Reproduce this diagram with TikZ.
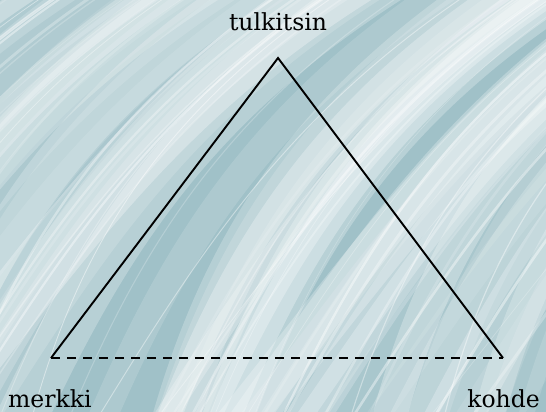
\documentclass[tikz,border=0pt]{standalone}
\usepackage{fontspec}
\setmainfont{DejaVu Serif}
\definecolor{bgbase}{RGB}{160,193,200}
\tikzset{
  lbl/.style={font=\fontsize{23.5}{26}\selectfont, text=black, inner sep=0pt},
  side/.style={draw=black, line width=1.9pt},
  base/.style={draw=black, line width=1.9pt, dash pattern=on 9pt off 7pt},
  strand/.style={draw=white, line cap=round}
}
\begin{document}
\begin{tikzpicture}[x=1pt,y=-1pt]
\useasboundingbox (0,0) rectangle (546,412);
\begin{scope}
\clip (0,0) rectangle (546,412);
\fill[bgbase] (0,0) rectangle (546,412);
\pgfmathsetseed{11}
\foreach \i in {1,...,45}{
  \pgfmathsetmacro\sx{rnd*1000-400}
  \pgfmathsetmacro\lw{15+rnd*45}
  \pgfmathsetmacro\op{0.10+rnd*0.20}
  \pgfmathsetmacro\bend{40+rnd*140}
  \draw[strand, line width=\lw pt, opacity=\op]
    (\sx,470) .. controls (\sx+\bend,260) and (\sx+\bend+90,90) .. (\sx+\bend+360,-60);
}
\foreach \i in {1,...,50}{
  \pgfmathsetmacro\sx{rnd*1000-400}
  \pgfmathsetmacro\lw{0.6+rnd*2.5}
  \pgfmathsetmacro\op{0.15+rnd*0.3}
  \pgfmathsetmacro\bend{40+rnd*140}
  \draw[strand, line width=\lw pt, opacity=\op]
    (\sx,470) .. controls (\sx+\bend,260) and (\sx+\bend+90,90) .. (\sx+\bend+360,-60);
}
\end{scope}
\coordinate (top) at (278,58);
\coordinate (bl) at (51,358);
\coordinate (br) at (503,358);
\node[lbl, anchor=base] (tulk) at (278,31) {tulkitsin};
\node[lbl, anchor=base west] (merk) at (8,407) {merkki};
\node[lbl, anchor=base east] (kohd) at (540,407) {kohde};
\draw[side, line join=miter] (bl) -- (top) -- (br);
\draw[base] (bl) -- (br);
\end{tikzpicture}
\end{document}
